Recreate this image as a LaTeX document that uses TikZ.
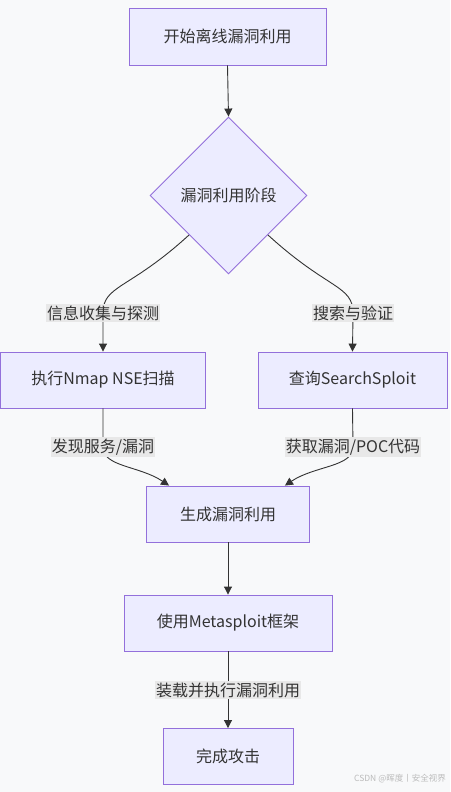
\documentclass[tikz,border=0pt]{standalone}
\usepackage{fontspec}
\setmainfont{Noto Sans CJK SC}
\usetikzlibrary{shapes.geometric,arrows.meta}
\definecolor{bg}{HTML}{F8F9FA}
\definecolor{nodefill}{HTML}{ECECFF}
\definecolor{nodeline}{HTML}{9370DB}
\definecolor{ink}{HTML}{333333}
\definecolor{labfill}{HTML}{E8E8E8}
\definecolor{wm}{HTML}{BBBBBB}
\tikzset{
  box/.style={draw=nodeline, fill=nodefill, line width=0.9pt, text=ink, font=\fontsize{16}{19}\selectfont, inner sep=0pt, anchor=center},
  dia/.style={diamond, draw=nodeline, fill=nodefill, line width=0.9pt, text=ink, font=\fontsize{16}{19}\selectfont, inner sep=0pt, minimum width=157pt, minimum height=157pt, aspect=1},
  elabel/.style={fill=labfill, text=ink, font=\fontsize{16}{19}\selectfont, inner xsep=1pt, inner ysep=2pt},
  arr/.style={draw=ink, line width=0.9pt, -{Triangle[length=8pt,width=8pt]}},
}
\begin{document}
\begin{tikzpicture}[x=1pt,y=-1pt]
\fill[bg] (0,0) rectangle (450,792);
\useasboundingbox (0,0) rectangle (450,792);

\node[box, minimum width=197pt, minimum height=57pt] (start) at (227.5,36.5) {开始离线漏洞利用};
\node[dia] (d) at (228.5,195.5) {漏洞利用阶段};
\node[box, minimum width=205pt, minimum height=56pt] (nmap) at (103,380) {执行Nmap NSE扫描};
\node[box, minimum width=189pt, minimum height=56pt] (ss) at (352.5,380) {查询SearchSploit};
\node[box, minimum width=163pt, minimum height=56pt] (gen) at (228,514) {生成漏洞利用};
\node[box, minimum width=208pt, minimum height=56pt] (msf) at (228,623) {使用Metasploit框架};
\node[box, minimum width=130pt, minimum height=56pt] (done) at (228,756.5) {完成攻击};

\coordinate (l1) at (103,313);
\coordinate (l2) at (353,313);
\coordinate (l3) at (103,447);
\coordinate (l4) at (353,447);
\coordinate (l5) at (228,690);

\draw[arr] (start.south) -- (d.north);
\draw[arr] (d.south west) .. controls +(-60,55) and +(0,-28) .. (l1) -- (nmap.north);
\draw[arr] (d.south east) .. controls +(60,55) and +(0,-28) .. (l2) -- (ss.north);
\draw[arr] (nmap.south) -- (l3) .. controls +(0,20) and +(-30,-20) .. ([xshift=23pt]gen.north west);
\draw[arr] (ss.south) -- (l4) .. controls +(0,20) and +(30,-20) .. ([xshift=-25pt]gen.north east);
\draw[arr] (gen.south) -- (msf.north);
\draw[arr] (msf.south) -- (done.north);

\node[elabel] (t1) at (l1) {信息收集与探测};
\node[elabel] (t2) at (l2) {搜索与验证};
\node[elabel] (t3) at (l3) {发现服务/漏洞};
\node[elabel] (t4) at (l4) {获取漏洞/POC代码};
\node[elabel] (t5) at (l5) {装载并执行漏洞利用};

\node[anchor=east, text=wm, font=\fontsize{8.5}{10}\selectfont, inner sep=0pt] (wmk) at (446,779) {CSDN @晖度丨安全视界};
\end{tikzpicture}
\end{document}
